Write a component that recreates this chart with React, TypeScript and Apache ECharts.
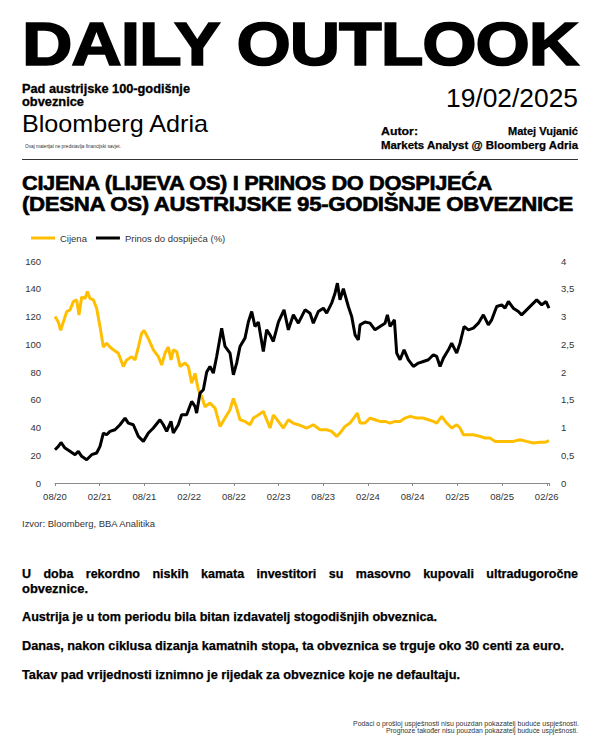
import React, { useEffect, useLayoutEffect, useRef } from "react";
import * as echarts from "echarts";

const FONT = '"Liberation Sans", Arial, Helvetica, sans-serif';
const YELLOW = "#FFBF00";

// x values: months since August 2020
const priceMonths = [
  0, 0.45, 0.76, 1.12, 1.57, 2.01, 2.46, 2.91, 3.22, 3.58, 4.03, 4.34, 4.7, 5.15, 5.59, 6.04, 6.49, 6.93, 7.38, 7.83,
  8.5, 9.17, 9.62, 10.29, 10.74, 11.19, 11.63, 11.95, 12.53, 13.2, 13.87, 14.32, 14.76, 15.21, 15.57, 15.88, 16.33,
  16.78, 17.45, 17.9, 18.34, 18.79, 19.24, 19.69, 20.13, 20.8, 21.48, 22.15, 22.82, 23.49, 23.94, 24.38, 24.83, 25.5,
  26.17, 26.62, 27.29, 27.96, 28.41, 28.86, 29.3, 29.98, 30.65, 31.32, 31.99, 32.66, 33.78, 34.67, 35.57, 36.46,
  37.13, 37.81, 38.25, 38.92, 39.59, 40.27, 40.58, 40.94, 41.61, 42.28, 42.95, 43.62, 44.3, 44.97, 45.64, 46.31,
  46.98, 47.65, 48.55, 49.44, 50.11, 50.78, 51.23, 51.9, 52.57, 53.24, 53.91, 54.36, 54.81, 55.48, 56.15, 57.04,
  57.71, 58.38, 59.05, 59.73, 60.62, 61.51, 62.41, 63.3, 64.2, 65.09, 65.76, 66.3,
];
const priceValues = [
  120, 116, 110, 116, 123.5, 124.7, 130.7, 132, 121, 134, 133, 138, 133, 132, 126, 112.7, 98, 100.7, 98, 96,
  93.5, 84, 88.7, 91, 88.7, 98, 108, 110, 104, 96, 91, 85, 93.5, 98, 88.7, 96, 94.7,
  84, 86.4, 84, 72, 79, 67, 62.4, 55, 57.6, 54, 40.8, 46.8, 52.8, 61, 54, 45.6, 44.4,
  42, 46.8, 49, 51.6, 45.6, 39.6, 49, 44.4, 39.6, 45.6, 43, 42, 39.6, 42, 38.4, 38.4,
  37.2, 33.6, 36, 40.8, 43.2, 48, 50.4, 43.2, 43.2, 46.8, 45.6, 44.4, 44.4, 43.2, 44.4, 44.4,
  46.8, 48, 46.8, 46.8, 45.6, 44.4, 43.2, 48, 43.2, 39.6, 42, 39.6, 34.8, 34.8, 34.8, 33.6,
  32.4, 32.4, 30, 30, 30, 30, 31.2, 30, 28.8, 29.3, 29.3, 30.5,
];

const yieldMonths = [
  0, 0.45, 0.81, 1.34, 2.01, 2.68, 3.13, 3.58, 4.25, 4.92, 5.59, 6.04, 6.49, 6.93, 7.38, 8.05, 8.72, 9.4, 9.84,
  10.51, 11.19, 11.86, 12.53, 13.2, 14.09, 14.54, 14.99, 15.57, 15.88, 16.55, 17.0, 17.67, 18.34, 18.79, 19.01,
  19.46, 19.91, 20.36, 20.8, 21.25, 21.7, 22.37, 22.82, 23.49, 23.94, 24.38, 24.83, 25.5, 25.95, 26.4, 26.84,
  27.29, 27.96, 28.41, 28.86, 29.3, 29.98, 30.74, 31.32, 31.99, 32.66, 33.56, 34.23, 34.67, 35.34, 36.02, 36.46,
  37.13, 37.58, 37.9, 38.25, 38.7, 39.37, 39.82, 40.27, 40.71, 40.94, 41.61, 42.28, 42.95, 43.62, 44.3, 44.61,
  44.97, 45.55, 45.86, 46.31, 46.85, 47.43, 48.1, 48.77, 49.44, 50.11, 50.78, 51.23, 51.68, 52.13, 52.8, 53.24,
  53.91, 54.36, 54.9, 55.48, 56.15, 56.82, 57.49, 58.16, 58.61, 59.28, 59.95, 60.4, 60.85, 61.51, 62.19, 62.63,
  63.3, 63.97, 64.65, 65.32, 65.9, 66.3,
];
const yieldValues = [
  0.6, 0.66, 0.73, 0.63, 0.57, 0.51, 0.57, 0.48, 0.42, 0.51, 0.54, 0.66, 0.9, 0.87, 0.93, 0.96, 1.05, 1.17, 1.08,
  1.05, 0.84, 0.75, 0.9, 0.99, 1.14, 1.05, 0.93, 1.11, 0.9, 1.05, 1.23, 1.23, 1.47, 1.38, 1.26,
  1.62, 1.68, 2.0, 2.1, 1.98, 2.28, 2.79, 2.46, 2.34, 1.95, 2.16, 2.46, 2.61, 2.9, 3.09, 2.82,
  2.9, 2.37, 2.76, 2.67, 2.55, 2.9, 3.12, 2.76, 3.03, 2.88, 3.12, 3.06, 2.88, 3.09, 3.15, 3.06,
  3.24, 3.42, 3.6, 3.3, 3.5, 3.18, 3.0, 2.67, 2.58, 2.85, 2.9, 2.88, 2.76, 2.82, 2.88, 3.03,
  2.82, 2.94, 2.34, 2.22, 2.4, 2.22, 2.1, 2.16, 2.19, 2.22, 2.31, 2.28, 2.1, 2.25, 2.4, 2.52,
  2.34, 2.52, 2.82, 2.76, 2.79, 2.88, 3.03, 2.85, 2.94, 3.18, 3.21, 3.15, 3.27, 3.15, 3.09, 3.03,
  3.12, 3.21, 3.3, 3.21, 3.27, 3.15,
];

const xTickLabels = ["08/20", "02/21", "08/21", "02/22", "08/22", "02/23", "08/23", "02/24", "08/24", "02/25", "08/25", "02/26"];
const seriesNames = ["Cijena", "Prinos do dospijeća (%)"];

type TProps = {
  text: string;
  x: number;
  base: number;
  w: number;
  size: number;
  bold?: boolean;
  color?: string;
  ls?: number;
  stroke?: number;
};

function T({ text, x, base, w, size, bold, color = "#000", ls = 0, stroke = 0 }: TProps) {
  const ref = useRef<HTMLDivElement>(null);
  useLayoutEffect(() => {
    const fit = () => {
      const el = ref.current;
      if (!el) return;
      el.style.transform = "none";
      const nat = el.getBoundingClientRect().width;
      if (nat > 0) el.style.transform = `scaleX(${w / nat})`;
    };
    fit();
    if ((document as any).fonts && (document as any).fonts.ready) (document as any).fonts.ready.then(fit);
  });
  const style: any = {
    position: "absolute",
    left: x,
    top: base - 0.8465 * size,
    fontFamily: FONT,
    fontSize: size,
    fontWeight: bold ? 700 : 400,
    color,
    lineHeight: `${size}px`,
    whiteSpace: "nowrap",
    letterSpacing: ls,
    transformOrigin: "0 0",
  };
  if (stroke > 0) style.WebkitTextStroke = `${stroke}px ${color}`;
  return (
    <div ref={ref} style={style}>
      {text}
    </div>
  );
}

function Justified({ text, x, base, w, size }: { text: string; x: number; base: number; w: number; size: number }) {
  return (
    <div
      style={{
        position: "absolute",
        left: x,
        top: base - 0.8465 * size,
        width: w,
        display: "flex",
        justifyContent: "space-between",
        fontFamily: FONT,
        fontSize: size,
        fontWeight: 700,
        lineHeight: `${size}px`,
        color: "#000",
        whiteSpace: "nowrap",
        WebkitTextStroke: "0.25px #000",
      } as any}
    >
      {text.split(" ").map((wd, i) => (
        <span key={i}>{wd}</span>
      ))}
    </div>
  );
}

function Chart() {
  const ref = useRef<HTMLDivElement>(null);
  useEffect(() => {
    if (!ref.current) return;
    const chart = echarts.init(ref.current, undefined, { renderer: "svg" });
    const priceData = priceMonths.map((m, i) => [m, priceValues[i]]);
    const yieldData = yieldMonths.map((m, i) => [m, yieldValues[i]]);
    chart.setOption({
      animation: false,
      textStyle: { fontFamily: FONT },
      legend: {
        left: 26,
        top: 13,
        itemWidth: 24,
        itemHeight: 3,
        itemGap: 9,
        icon: "rect",
        data: seriesNames,
        textStyle: { fontSize: 9.5, color: "#333", fontFamily: FONT },
      },
      grid: { left: 55, right: 51, top: 46, bottom: 32, containLabel: false },
      xAxis: {
        type: "value",
        min: 0,
        max: 66.3,
        interval: 6,
        axisLine: { show: true, lineStyle: { color: "#8a8a8a", width: 1 } },
        axisTick: { show: true, length: 3, lineStyle: { color: "#8a8a8a" } },
        splitLine: { show: false },
        axisLabel: {
          fontSize: 9.5,
          color: "#333",
          margin: 8,
          fontFamily: FONT,
          formatter: (v: number) => {
            const k = v / 6;
            if (Math.abs(k - Math.round(k)) > 0.001) return "";
            return xTickLabels[Math.round(k)] ?? "";
          },
        },
      },
      yAxis: [
        {
          type: "value",
          min: 0,
          max: 160,
          interval: 20,
          position: "left",
          axisLine: { show: false },
          axisTick: { show: false },
          splitLine: { show: false },
          axisLabel: { fontSize: 9.5, color: "#333", margin: 14, fontFamily: FONT },
        },
        {
          type: "value",
          min: 0,
          max: 4,
          interval: 0.5,
          position: "right",
          axisLine: { show: false },
          axisTick: { show: false },
          splitLine: { show: false },
          axisLabel: {
            fontSize: 9.5,
            color: "#333",
            margin: 12,
            fontFamily: FONT,
            formatter: (v: number) => String(v).replace(".", ","),
          },
        },
      ],
      series: [
        {
          name: seriesNames[0],
          type: "line",
          yAxisIndex: 0,
          data: priceData,
          showSymbol: false,
          lineStyle: { color: YELLOW, width: 3 },
          itemStyle: { color: YELLOW },
        },
        {
          name: seriesNames[1],
          type: "line",
          yAxisIndex: 1,
          data: yieldData,
          showSymbol: false,
          lineStyle: { color: "#000", width: 3 },
          itemStyle: { color: "#000" },
        },
      ],
    });
    return () => chart.dispose();
  }, []);
  return <div ref={ref} style={{ position: "absolute", left: 0, top: 215, width: 600, height: 300 }} />;
}

export default function App() {
  return (
    <div style={{ position: "absolute", left: 0, top: 0, width: 600, height: 750, background: "#fff", overflow: "hidden" }}>
      <T text="DAILY OUTLOOK" x={22} base={65.5} w={556} size={61} bold stroke={1.6} ls={-1} />
      <T text="Pad austrijske 100-godišnje" x={22} base={93} w={168} size={12} bold stroke={0.3} />
      <T text="obveznice" x={22} base={106.3} w={62} size={12} bold stroke={0.3} />
      <T text="Bloomberg Adria" x={22} base={132.3} w={186} size={24} />
      <T text="Ovaj materijal ne predstavlja financijski savjet." x={25} base={148.5} w={96} size={5} color="#333" />
      <T text="19/02/2025" x={446} base={107.3} w={132} size={26} />
      <T text="Autor:" x={381} base={136} w={37} size={11.5} bold stroke={0.25} />
      <T text="Matej Vujanić" x={508} base={136} w={70} size={11.5} bold stroke={0.25} />
      <T text="Markets Analyst @ Bloomberg Adria" x={381} base={150} w={197} size={11.5} bold stroke={0.25} />
      <div style={{ position: "absolute", left: 22, top: 158.5, width: 556, height: 1.6, background: "#333" }} />
      <T text="CIJENA (LIJEVA OS) I PRINOS DO DOSPIJEĆA" x={22} base={190} w={470} size={20} bold stroke={0.6} ls={-0.3} />
      <T text="(DESNA OS) AUSTRIJSKE 95-GODIŠNJE OBVEZNICE" x={22} base={210.5} w={551} size={20} bold stroke={0.6} ls={-0.3} />
      <Chart />
      <T text="Izvor: Bloomberg, BBA Analitika" x={22} base={528} w={133} size={9} color="#333" />
      <Justified text="U doba rekordno niskih kamata investitori su masovno kupovali ultradugoročne" x={22} base={579} w={556} size={12.5} />
      <T text="obveznice." x={22} base={593.5} w={66} size={12.5} bold stroke={0.25} />
      <T text="Austrija je u tom periodu bila bitan izdavatelj stogodišnjih obveznica." x={22} base={622} w={415} size={12.5} bold stroke={0.25} />
      <T text="Danas, nakon ciklusa dizanja kamatnih stopa, ta obveznica se trguje oko 30 centi za euro." x={22} base={651} w={542} size={12.5} bold stroke={0.25} />
      <T text="Takav pad vrijednosti iznimno je rijedak za obveznice koje ne defaultaju." x={22} base={680} w={438} size={12.5} bold stroke={0.25} />
      <T text="Podaci o prošloj uspješnosti nisu pouzdan pokazatelj buduće uspješnosti." x={353} base={726.5} w={226} size={6.5} color="#333" />
      <T text="Prognoze također nisu pouzdan pokazatelj buduće uspješnosti." x={386} base={734} w={192} size={6.5} color="#333" />
    </div>
  );
}
